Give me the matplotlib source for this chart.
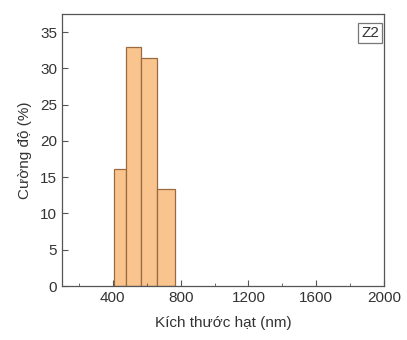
import matplotlib
matplotlib.use("Agg")
import matplotlib.pyplot as plt
from matplotlib.ticker import MultipleLocator

plt.rcParams['font.family'] = ['Liberation Sans', 'DejaVu Sans']

# bin edges (nm) and intensity (%)
bin_edges = [404, 479, 565, 660, 766]
intensity = [16.1, 33.0, 31.4, 13.4]
sample_label = "Z2"

fig = plt.figure(figsize=(4.07, 3.40), dpi=100)
ax = fig.add_axes([62 / 407, 1 - 286 / 340, (384 - 62) / 407, (286 - 14) / 340])

lefts = bin_edges[:-1]
widths = [b - a for a, b in zip(bin_edges[:-1], bin_edges[1:])]
ax.bar(lefts, intensity, width=widths, align="edge",
       color="#F9C48E", edgecolor="#9A6A40", linewidth=0.9)

ax.set_xlim(100, 2000)
ax.set_ylim(0, 37.5)
ax.xaxis.set_minor_locator(MultipleLocator(200))
ax.yaxis.set_major_locator(MultipleLocator(5))
ax.set_xticks([400, 800, 1200, 1600, 2000])

for s in ax.spines.values():
    s.set_color("#555555")
    s.set_linewidth(0.9)
ax.tick_params(direction="in", which="both", colors="#555555", labelcolor="#333333",
               labelsize=11)
ax.tick_params(which="major", length=4)
ax.tick_params(which="minor", length=2)

ax.set_xlabel("Kích thước hạt (nm)", fontsize=11, color="#333333", labelpad=8)
ax.set_ylabel("Cường độ (%)", fontsize=11, color="#333333", labelpad=6)

ax.text(0.985, 0.955, sample_label, transform=ax.transAxes, ha="right", va="top",
        fontsize=11, color="#333333",
        bbox=dict(boxstyle="square,pad=0.2", facecolor="white", edgecolor="#777777", linewidth=0.9))

fig.savefig("out.png", dpi=100)
